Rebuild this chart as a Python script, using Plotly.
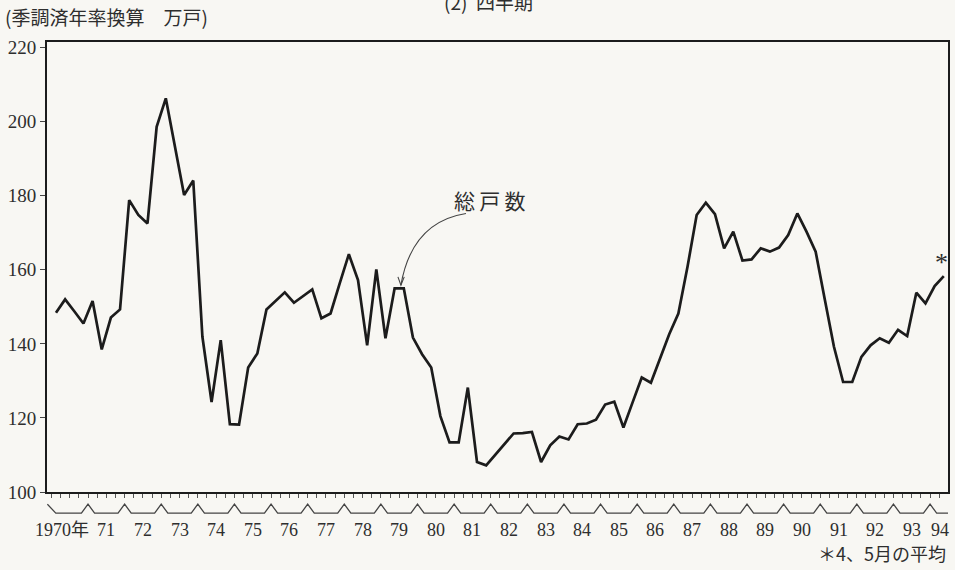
import plotly.graph_objects as go

# ---- data (quarterly, seasonally adjusted annual rate, 10k units) ----
start_year = 1970
year_labels = ["1970年", "71", "72", "73", "74", "75", "76", "77", "78", "79", "80",
               "81", "82", "83", "84", "85", "86", "87", "88", "89", "90", "91",
               "92", "93", "94"]
housing_starts = [
    148.4, 152.0, 148.8, 145.5, 151.6, 138.5, 147.1, 149.3,   # 1970-71
    178.8, 174.8, 172.5, 198.6, 206.3, 193.5, 180.2, 184.1,   # 1972-73
    141.9, 124.3, 141.0, 118.3, 118.2, 133.6, 137.4, 149.3,   # 1974-75
    151.6, 153.9, 151.1, 153.0, 154.7, 146.9, 148.2, 156.3,   # 1976-77
    164.2, 157.2, 139.6, 160.1, 141.5, 155.0, 155.0, 141.7,   # 1978-79
    137.2, 133.6, 120.5, 113.4, 113.4, 128.2, 108.1, 107.2,   # 1980-81
    110.1, 112.9, 115.8, 115.9, 116.2, 108.1, 112.6, 115.0,   # 1982-83
    114.2, 118.3, 118.5, 119.5, 123.6, 124.4, 117.4, 124.2,   # 1984-85
    130.9, 129.5, 136.0, 142.6, 148.2, 160.8, 174.8, 178.1,   # 1986-87
    175.0, 165.8, 170.3, 162.5, 162.8, 165.8, 164.9, 166.0,   # 1988-89
    169.4, 175.2, 170.3, 164.9, 152.0, 139.2, 129.7, 129.7,   # 1990-91
    136.5, 139.6, 141.5, 140.3, 143.8, 142.1, 153.8, 150.9,   # 1992-93
    155.6, 158.3,                                             # 1994 Q1-Q2
]
y_ticks = [100, 120, 140, 160, 180, 200, 220]

x_vals = [start_year + (i + 0.5) / 4 for i in range(len(housing_starts))]
years = [start_year + k for k in range(len(year_labels))]

SERIF = "Liberation Serif, Noto Sans CJK JP, serif"
CJK = "Noto Sans CJK JP, Liberation Serif, sans-serif"
INK = "#1c1c1c"
TXT = "#2e2e2e"
BG = "#f8f7f3"

fig = go.Figure()
fig.add_trace(go.Scatter(
    x=x_vals, y=housing_starts, mode="lines",
    line=dict(color=INK, width=2.7), hoverinfo="x+y", showlegend=False,
))

X0, X1 = 1969.88, 1994.49
fig.update_layout(
    width=955, height=570,
    margin=dict(l=47, r=5, t=42, b=78),
    paper_bgcolor=BG, plot_bgcolor=BG,
    xaxis=dict(
        range=[X0, X1], showgrid=False, zeroline=False,
        showline=True, linecolor=INK, linewidth=2, mirror=True,
        tick0=1970, dtick=1, ticks="outside", ticklen=4, tickcolor="#555",
        showticklabels=False,
        minor=dict(dtick=0.25, tick0=1970, ticks="outside", ticklen=4,
                   tickcolor="#555", showgrid=False),
    ),
    yaxis=dict(
        range=[100, 221.5], showgrid=False, zeroline=False,
        showline=True, linecolor=INK, linewidth=2, mirror=True,
        tickvals=y_ticks, ticks="outside", ticklen=5, tickcolor="#444",
        tickfont=dict(family=SERIF, size=19, color=TXT),
    ),
)

annotations = []
# year labels under the brackets
for yr, lab in zip(years, year_labels):
    xpos = min(yr + 0.5, 1994.28)
    annotations.append(dict(
        x=xpos, y=-0.085, xref="x", yref="paper", text=lab, showarrow=False,
        font=dict(family=SERIF, size=18, color=TXT),
        xanchor="center", yanchor="middle",
        xshift=-8 if lab.endswith("年") else 0,
    ))
# unit title
annotations.append(dict(
    x=-0.0487, y=1.0556, xref="paper", yref="paper",
    text="(季調済年率換算　万戸)", showarrow=False,
    font=dict(family=CJK, size=19, color=TXT),
    xanchor="left", yanchor="middle",
))
# panel title (cut off by the top edge in the reference)
annotations.append(dict(
    x=0.49, y=1.0895, xref="paper", yref="paper", text="(2)  四半期",
    showarrow=False, font=dict(family=CJK, size=19, color=TXT),
    xanchor="center", yanchor="middle",
))
# series label
annotations.append(dict(
    x=0.4906, y=0.6487, xref="paper", yref="paper", text="総\u2009戸\u2009数",
    showarrow=False, font=dict(family=CJK, size=21, color=TXT),
    xanchor="center", yanchor="middle",
))
# asterisk at the last point
annotations.append(dict(
    x=0.9923, y=0.511, xref="paper", yref="paper", text="*",
    showarrow=False, font=dict(family=SERIF, size=26, color=TXT),
    xanchor="center", yanchor="middle",
))
# footnote
annotations.append(dict(
    x=1.0, y=-0.1363, xref="paper", yref="paper", text="＊4、5月の平均",
    showarrow=False, font=dict(family=CJK, size=18, color=TXT),
    xanchor="right", yanchor="middle",
))
fig.update_layout(annotations=annotations)

# year bracket decoration below axis
py_base, py_peak = -0.047, -0.027
hw = 0.18
p = f"M {X0 + 0.01},{py_peak} L {1970 + 0.12},{py_base}"
for yr in years[1:]:
    p += f" L {yr - hw},{py_base} L {yr},{py_peak} L {yr + hw},{py_base}"
p += f" L {X1},{py_base}"
shapes = [dict(type="path", xref="x", yref="paper", path=p,
               line=dict(color="#444", width=1.3))]

# curved leader for the series label
shapes.append(dict(
    type="path", xref="paper", yref="paper",
    path="M 0.3928,0.4596 Q 0.405,0.60 0.465,0.619",
    line=dict(color="#444", width=1.1),
))
shapes.append(dict(
    type="path", xref="paper", yref="paper",
    path="M 0.3895,0.478 L 0.3928,0.4596 L 0.3965,0.478",
    line=dict(color="#444", width=1.1),
))
fig.update_layout(shapes=shapes)

fig.write_html("out.html", config={"displayModeBar": False})

# remove the default page margin so the figure sits at the window origin
with open("out.html", encoding="utf-8") as f:
    html = f.read()
html = html.replace(
    "<head>",
    "<head><style>html,body{margin:0;padding:0;overflow:hidden;background:#f8f7f3}</style>",
    1,
)
with open("out.html", "w", encoding="utf-8") as f:
    f.write(html)
